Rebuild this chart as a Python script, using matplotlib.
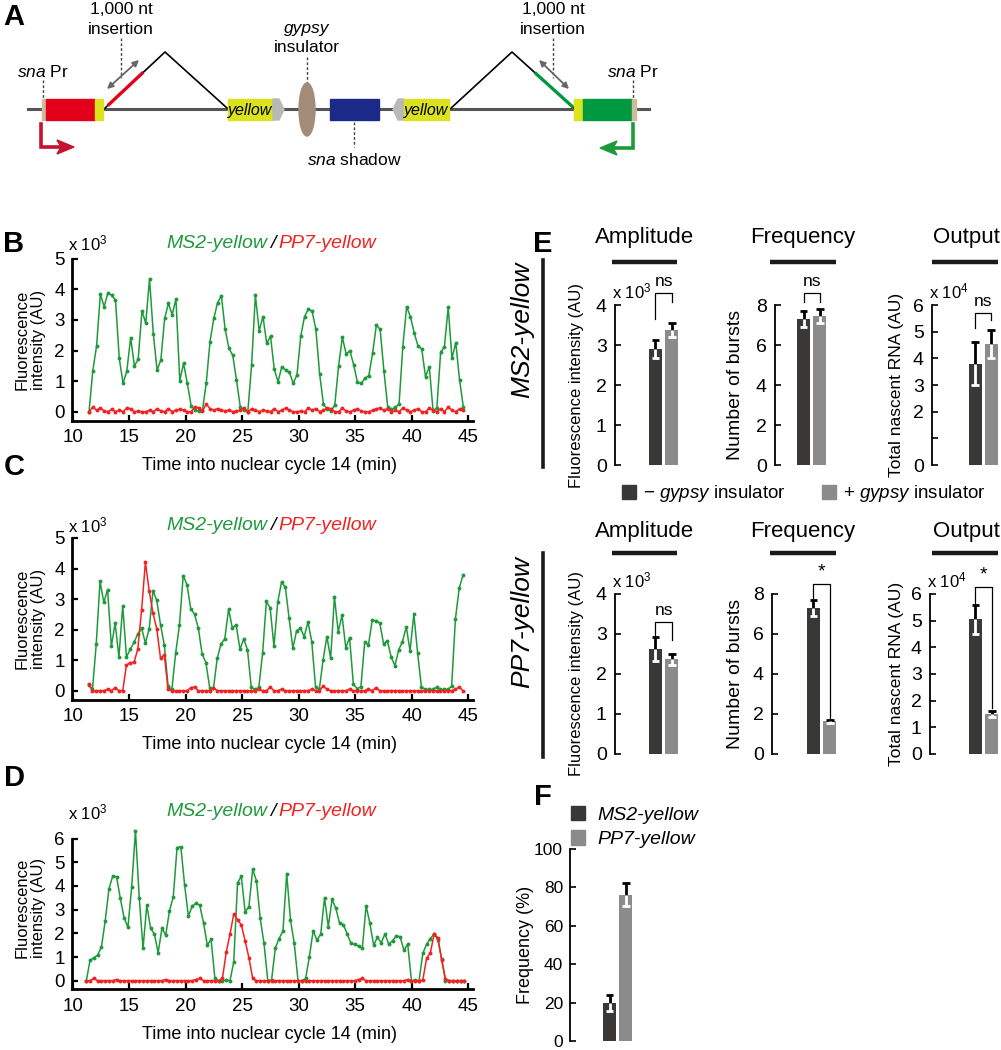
import numpy as np
import matplotlib
matplotlib.use('Agg')
import matplotlib.pyplot as plt
from matplotlib.patches import Rectangle, Ellipse, Polygon, Patch

plt.rcParams['font.family'] = ['Liberation Sans', 'DejaVu Sans']
plt.rcParams['mathtext.fontset'] = 'custom'
plt.rcParams['mathtext.rm'] = 'Liberation Sans'
plt.rcParams['mathtext.it'] = 'Liberation Sans:italic'

W, H = 1001, 1050
GREEN = '#1f9a3a'
RED = '#f22222'
DARK = '#3a3737'
LIGHT = '#8b8b8b'

# ---------------- data ----------------
frame_min = 0.335          # imaging interval (min)
b_start, c_start, d_start = 11.42, 11.39, 11.18

b_ms2 = [0.0, 1.34, 2.15, 3.84, 3.43, 3.89, 3.80, 3.65, 1.74, 0.93,
         1.33, 2.42, 1.50, 1.71, 3.30, 2.89, 4.34, 2.55, 1.36, 1.69,
         3.05, 3.54, 3.17, 3.69, 1.01, 1.58, 0.93, 0.20, 0.05, 0.02,
         0.05, 0.93, 2.29, 3.05, 3.56, 3.79, 2.70, 2.07, 1.85, 1.04,
         0.16, 0.05, 0.0, 1.53, 3.81, 2.64, 3.11, 2.23, 2.47, 1.38,
         0.98, 1.47, 1.36, 1.29, 0.93, 1.20, 2.47, 3.11, 3.35, 3.29,
         2.69, 1.23, 0.24, 0.08, 0.02, 0.22, 1.49, 2.43, 1.89, 1.99,
         1.53, 0.96, 0.93, 1.09, 1.18, 1.91, 2.83, 2.69, 1.33, 0.16,
         0.08, 0.14, 0.25, 2.13, 3.43, 3.11, 2.58, 2.15, 2.05, 1.14,
         1.47, 0.02, 0.13, 1.94, 2.13, 3.41, 1.74, 2.26, 1.04, 0.16]
b_pp7 = [0.0, 0.15, 0.05, 0.12, 0.03, 0.0, 0.08, 0.0, 0.05, 0.0,
         0.12, 0.1, 0.0, 0.02, 0.0, 0.0, 0.05, 0.0, 0.1, 0.02,
         0.0, 0.1, 0.0, 0.05, 0.08, 0.05, 0.0, 0.0, 0.15, 0.12,
         0.02, 0.25, 0.1, 0.05, 0.1, 0.05, 0.03, 0.05, 0.0, 0.02,
         0.05, 0.12, 0.0, 0.1, 0.05, 0.0, 0.05, 0.02, 0.0, 0.1,
         0.0, 0.05, 0.12, 0.05, 0.0, 0.0, 0.02, 0.0, 0.12, 0.05,
         0.1, 0.0, 0.05, 0.12, 0.1, 0.0, 0.0, 0.12, 0.02, 0.0,
         0.05, 0.1, 0.02, 0.0, 0.0, 0.05, 0.1, 0.12, 0.05, 0.1,
         0.0, 0.05, 0.0, 0.12, 0.05, 0.0, 0.05, 0.1, 0.0, 0.0,
         0.12, 0.05, 0.0, 0.1, 0.0, 0.15, 0.05, 0.0, 0.1, 0.05]

c_ms2 = [0.19, 0.04, 1.53, 3.58, 2.89, 3.31, 1.45, 2.21, 1.10, 2.78,
         1.10, 1.36, 1.58, 1.86, 2.04, 1.56, 2.02, 3.27, 2.96, 2.16,
         1.50, 0.15, 0.04, 1.23, 2.14, 3.77, 3.47, 2.68, 2.50, 2.05,
         1.20, 0.92, 0.10, 0.08, 1.06, 1.53, 1.70, 2.67, 2.05, 2.16,
         1.36, 1.69, 1.34, 0.11, 0.04, 0.11, 1.23, 2.92, 2.71, 1.45,
         2.90, 3.55, 3.40, 2.38, 1.39, 1.97, 2.04, 1.77, 2.25, 1.61,
         0.13, 0.04, 1.01, 1.77, 1.06, 3.07, 1.93, 2.47, 1.40, 1.74,
         0.22, 0.07, 0.13, 1.58, 1.50, 2.31, 2.29, 2.21, 1.53, 1.64,
         1.10, 0.82, 1.34, 1.61, 2.09, 1.30, 2.51, 1.23, 0.13, 0.04,
         0.04, 0.04, 0.11, 0.04, 0.04, 0.04, 0.15, 2.35, 3.36, 3.78]
c_pp7 = [0.22, 0.0, 0.0, 0.0, 0.0, 0.05, 0.0, 0.1, 0.0, 0.0,
         0.84, 0.92, 0.93, 1.37, 2.65, 4.21, 3.27, 2.54, 2.03, 1.06,
         1.17, 0.04, 0.0, 0.0, 0.0, 0.0, 0.0, 0.1, 0.12, 0.0,
         0.0, 0.0, 0.0, 0.1, 0.0, 0.0, 0.0, 0.0, 0.0, 0.0,
         0.0, 0.0, 0.0, 0.0, 0.0, 0.05, 0.0, 0.0, 0.12, 0.0,
         0.0, 0.05, 0.0, 0.0, 0.0, 0.0, 0.0, 0.0, 0.0, 0.05,
         0.0, 0.0, 0.15, 0.05, 0.0, 0.0, 0.0, 0.0, 0.0, 0.05,
         0.0, 0.0, 0.0, 0.0, 0.05, 0.0, 0.1, 0.0, 0.0, 0.0,
         0.0, 0.0, 0.0, 0.0, 0.0, 0.0, 0.0, 0.0, 0.0, 0.0,
         0.0, 0.0, 0.0, 0.0, 0.0, 0.0, 0.0, 0.05, 0.12, 0.0]

d_ms2 = [0.0, 0.87, 0.97, 1.08, 1.43, 2.53, 3.89, 4.42, 4.38, 3.47,
         2.65, 2.25, 3.96, 6.32, 3.51, 1.36, 3.19, 2.21, 1.97, 1.18,
         2.21, 1.92, 2.95, 3.54, 5.62, 5.65, 4.04, 2.72, 3.15, 3.26,
         3.19, 2.44, 1.50, 1.74, 0.10, 0.0, 0.0, 0.03, 0.0, 0.80,
         4.13, 4.41, 2.91, 3.12, 4.70, 4.21, 2.63, 1.57, 0.0, 0.03,
         1.39, 1.78, 2.09, 4.52, 2.56, 1.57, 0.0, 0.0, 0.10, 1.01,
         2.11, 1.71, 1.97, 3.50, 2.28, 3.43, 3.05, 2.42, 2.37, 1.97,
         1.57, 1.53, 1.46, 1.36, 3.16, 2.42, 1.50, 1.83, 1.60, 1.97,
         1.54, 1.69, 1.90, 1.85, 1.29, 1.54, 0.0, 0.03, 0.0, 1.15,
         1.54, 1.78, 1.97, 1.71, 0.90, 0.0, 0.0, 0.0, 0.0, 0.0, 0.0]
d_pp7 = [0.0, 0.0, 0.1, 0.0, 0.0, 0.0, 0.0, 0.0, 0.05, 0.0,
         0.0, 0.0, 0.0, 0.0, 0.0, 0.0, 0.0, 0.0, 0.0, 0.0,
         0.0, 0.05, 0.0, 0.0, 0.0, 0.0, 0.0, 0.0, 0.0, 0.05,
         0.1, 0.0, 0.0, 0.0, 0.0, 0.0, 0.1, 1.19, 1.97, 2.81,
         2.58, 2.35, 1.69, 0.97, 0.10, 0.0, 0.0, 0.0, 0.0, 0.0,
         0.0, 0.0, 0.0, 0.0, 0.0, 0.0, 0.0, 0.0, 0.0, 0.0,
         0.0, 0.0, 0.0, 0.0, 0.0, 0.0, 0.0, 0.0, 0.0, 0.0,
         0.0, 0.0, 0.05, 0.1, 0.0, 0.0, 0.0, 0.0, 0.0, 0.0,
         0.0, 0.0, 0.0, 0.0, 0.0, 0.05, 0.0, 0.0, 0.0, 0.03,
         0.94, 1.18, 1.97, 1.81, 0.87, 0.07, 0.0, 0.0, 0.0, 0.0, 0.0]

# panel E: [- gypsy, + gypsy]
ms2_amp, ms2_amp_err = [2.90, 3.37], [0.23, 0.17]
ms2_freq, ms2_freq_err = [7.30, 7.45], [0.40, 0.37]
ms2_out, ms2_out_err = [3.80, 4.55], [0.80, 0.52]
pp7_amp, pp7_amp_err = [2.63, 2.37], [0.30, 0.14]
pp7_freq, pp7_freq_err = [7.30, 1.63], [0.42, 0.08]
pp7_out, pp7_out_err = [5.05, 1.50], [0.55, 0.10]
# panel F
f_vals, f_errs = [19.6, 76.3], [4.2, 6.2]
f_labels = ['MS2-yellow', 'PP7-yellow']

# ---------------- figure ----------------
fig = plt.figure(figsize=(W / 100, H / 100), dpi=100)


def px_axes(l, t, r, b, **kw):
    return fig.add_axes([l / W, 1 - b / H, (r - l) / W, (b - t) / H], **kw)


# overlay in pixel coordinates for diagram and annotations
ov = px_axes(0, 0, W, H, zorder=5)
ov.set_xlim(0, W)
ov.set_ylim(H, 0)
ov.axis('off')
ov.patch.set_alpha(0)


def txt(x, y, s, **kw):
    kw.setdefault('ha', 'center')
    kw.setdefault('va', 'center')
    ov.text(x, y, s, **kw)


# panel letters
for letter, (lx, ly) in {'A': (14, 17), 'B': (14, 244), 'C': (14, 467),
                         'D': (14, 778), 'E': (543, 244), 'F': (543, 797)}.items():
    txt(lx, ly, letter, fontsize=21, fontweight='bold')

# ---------------- panel A diagram ----------------
YEL = '#dbe21e'
TAN = '#cdbb9b'
ov.plot([28, 649], [109, 109], color='#555555', lw=2.2, zorder=1)
ov.add_patch(Rectangle((42, 99), 4, 21, color=TAN, zorder=2))
ov.add_patch(Rectangle((46, 99), 49, 21, color='#e3001b', zorder=2))
ov.add_patch(Rectangle((95, 99), 8, 21, color=YEL, zorder=2))
ov.plot([103, 165, 227], [110, 52, 108], color='black', lw=1.2, zorder=1)
ov.plot([109, 142], [104.4, 73.4], color='#e3001b', lw=2.4, zorder=2)
ov.add_patch(Rectangle((228, 99), 45, 21, color=YEL, zorder=2))
ov.add_patch(Polygon([(273, 99), (279, 99), (284, 109.5), (279, 120), (273, 120)],
                     color='#b8b8b8', zorder=2))
ov.add_patch(Ellipse((307, 109.5), 16, 53, color='#a38b7a', zorder=3))
ov.add_patch(Rectangle((330, 99), 49, 21, color='#1b2a88', zorder=2))
ov.add_patch(Polygon([(404, 99), (398, 99), (393, 109.5), (398, 120), (404, 120)],
                     color='#b8b8b8', zorder=2))
ov.add_patch(Rectangle((404, 99), 45, 21, color=YEL, zorder=2))
ov.plot([449, 512, 574], [110, 52, 108], color='black', lw=1.2, zorder=1)
ov.plot([536, 572], [73.7, 106.2], color='#009940', lw=2.4, zorder=2)
ov.add_patch(Rectangle((574, 99), 9, 21, color=YEL, zorder=2))
ov.add_patch(Rectangle((583, 99), 49, 21, color='#009940', zorder=2))
ov.add_patch(Rectangle((632, 99), 4, 21, color=TAN, zorder=2))
for x in (250, 426):
    txt(x, 110, 'yellow', fontsize=11.5, style='italic')
arrow_kw = dict(arrowstyle='<|-|>', color='#666666', lw=1.3, mutation_scale=9,
                shrinkA=0, shrinkB=0)
ov.annotate('', xy=(107, 89), xytext=(139, 60), arrowprops=arrow_kw)
ov.annotate('', xy=(569, 89), xytext=(539, 60), arrowprops=arrow_kw)
dash = dict(color='#444444', lw=1.0, ls=(0, (2, 1.5)))
for xs, ys in [((121, 121), (38, 78)), ((553, 553), (38, 78)), ((43, 43), (80, 98)),
               ((633, 633), (80, 98)), ((307, 307), (57, 83)), ((354, 354), (122, 147))]:
    ov.plot(xs, ys, **dash)
for x in (121, 553):
    txt(x, 10, '1,000 nt', fontsize=12.5)
    txt(x, 30, 'insertion', fontsize=12.5)
txt(43, 72, r'$\mathit{sna}$ Pr', fontsize=12.5)
txt(633, 72, r'$\mathit{sna}$ Pr', fontsize=12.5)
txt(307, 28, 'gypsy', fontsize=12.5, style='italic')
txt(307, 48, 'insulator', fontsize=12.5)
txt(354, 160, r'$\mathit{sna}$ shadow', fontsize=12.5)
ov.plot([41, 41, 62], [124, 147, 147], color='#c4122f', lw=2.6, solid_joinstyle='miter')
ov.add_patch(Polygon([(74, 147), (57, 140), (61, 147), (57, 154)], color='#c4122f'))
ov.plot([633, 633, 612], [124, 148, 148], color='#1e9a3a', lw=2.6, solid_joinstyle='miter')
ov.add_patch(Polygon([(600, 148), (617, 141), (613, 148), (617, 155)], color='#1e9a3a'))

# ---------------- panels B, C, D traces ----------------
X0_PX, PX_PER_MIN = 73, 11.286


def trace_panel(ms2, pp7, start, ytop, y0_px, unit_px, ymin, title_y, yticks):
    left = X0_PX + (9.9 - 10) * PX_PER_MIN
    right = X0_PX + (45.4 - 10) * PX_PER_MIN
    top = y0_px - ytop * unit_px
    bot = y0_px - ymin * unit_px
    ax = px_axes(left, top, right, bot)
    t_ms2 = start + frame_min * np.arange(len(ms2))
    t_pp7 = start + frame_min * np.arange(len(pp7))
    ax.plot(t_ms2, ms2, '-o', color=GREEN, lw=1.1, ms=2.8, mew=0)
    ax.plot(t_pp7, pp7, '-o', color=RED, lw=1.1, ms=2.8, mew=0)
    ax.set_xlim(9.9, 45.4)
    ax.set_ylim(ymin, ytop)
    ax.set_xticks(range(10, 46, 5))
    ax.set_yticks(yticks)
    for s in ('top', 'right'):
        ax.spines[s].set_visible(False)
    for s in ('left', 'bottom'):
        ax.spines[s].set_linewidth(2)
    ax.spines['left'].set_bounds(ymin, yticks[-1])
    ax.tick_params(direction='in', length=4, width=1.6, labelsize=13.5, pad=5)
    ax.tick_params(axis='x', pad=6)
    ax.patch.set_alpha(0)
    cy = (top + bot) / 2
    txt(30, cy, 'Fluorescence\nintensity (AU)', fontsize=12, rotation=90, linespacing=1.1)
    txt(68, title_y, r'x 10$^{3}$', fontsize=12, ha='left')
    txt(267, title_y, 'MS2-yellow', fontsize=14, style='italic', color=GREEN, ha='right')
    txt(272.5, title_y, '/', fontsize=14, style='italic')
    txt(278, title_y, 'PP7-yellow', fontsize=14, style='italic', color=RED, ha='left')
    txt(270, bot + 45, 'Time into nuclear cycle 14 (min)', fontsize=13)
    return ax


trace_panel(b_ms2, b_pp7, b_start, 5.0, 411.7, 30.6, -0.3, 243, range(0, 6))
trace_panel(c_ms2, c_pp7, c_start, 5.0, 690.7, 30.55, -0.3, 525, range(0, 6))
trace_panel(d_ms2, d_pp7, d_start, 6.5, 980.7, 23.7, -0.36, 812, range(0, 7))

# ---------------- panel E bars ----------------
BAR_PX = 16.25


def draw_bars(ax, vals, errs, capw=0.24):
    x = np.arange(len(vals))
    ax.bar(x, vals, width=0.8, color=[DARK, LIGHT])
    for xi, v, e in zip(x, vals, errs):
        ax.vlines(xi, v, v + e, color='black', lw=2, clip_on=False)
        ax.hlines(v + e, xi - capw, xi + capw, color='black', lw=2, clip_on=False)
        ax.vlines(xi, v - e, v, color='white', lw=2, clip_on=False)
        ax.hlines(v - e, xi - capw, xi + capw, color='white', lw=2, clip_on=False)


def bar_axes(spine_x, top, bottom, c0, ymax, yticks, ticklabels=None, width=70, lsize=14):
    ax = px_axes(spine_x, top, spine_x + width, bottom)
    left = -(c0 - spine_x) / BAR_PX
    ax.set_xlim(left, left + width / BAR_PX)
    ax.set_ylim(0, ymax)
    ax.set_yticks(yticks)
    if ticklabels is not None:
        ax.set_yticklabels(ticklabels)
    ax.set_xticks([])
    for s in ('top', 'right', 'bottom'):
        ax.spines[s].set_visible(False)
    ax.spines['left'].set_linewidth(1.3)
    ax.tick_params(direction='in', length=4, width=1.2, labelsize=lsize, pad=6)
    ax.patch.set_alpha(0)
    return ax


def bracket(ax, vals, errs, label, g0, g1, gtop, star=False):
    ppx = ax.get_ylim()[1] / 160.0
    y0 = vals[0] + errs[0] + g0 * ppx
    y1 = vals[1] + errs[1] + g1 * ppx
    yt = max(y0, y1) + gtop * ppx
    ax.plot([0, 0, 1, 1], [y0, yt, yt, y1], color='black', lw=0.9, clip_on=False)
    ax.text(0.5, yt + (3 if star else 4) * ppx, label, ha='center', va='bottom',
            fontsize=14 if star else 12.5, clip_on=False)


e_rows = [
    (305, 465, [ms2_amp, ms2_freq, ms2_out], [ms2_amp_err, ms2_freq_err, ms2_out_err],
     [(615, 655.5), (775, 803.5), (932, 975)], ['ns', 'ns', 'ns'],
     [(21, 21, 9), (9, 7, 9), (14, 10, 7)]),
    (594, 754, [pp7_amp, pp7_freq, pp7_out], [pp7_amp_err, pp7_freq_err, pp7_out_err],
     [(615, 655.5), (772, 813.5), (930, 975.5)], ['ns', '*', '*'],
     [(2, 14, 13), (2, 2, 14), (2, 3, 16)]),
]
limits = [(4, range(0, 5), None), (8, range(0, 9, 2), None),
          (6, range(0, 7), ['0', '', '2', '3', '4', '5', '6'])]
ylabels = [('Fluorescence intensity (AU)', 577, 12), ('Number of bursts', 736, 14),
           ('Total nascent RNA (AU)', 896, 12.5)]
sci = ['x 10$^{3}$', None, 'x 10$^{4}$']

for top, bot, vals_list, err_list, pos, sig, gaps in e_rows:
    for k in range(3):
        ymax, ticks, tlab = limits[k]
        if k == 2 and top > 500:
            tlab = None
        ax = bar_axes(pos[k][0], top, bot, pos[k][1], ymax, ticks, tlab)
        draw_bars(ax, vals_list[k], err_list[k])
        bracket(ax, vals_list[k], err_list[k], sig[k], *gaps[k], star=(sig[k] == '*'))
        lab, lx, fs = ylabels[k]
        txt(lx, (top + bot) / 2, lab, fontsize=fs, rotation=90)
        if sci[k]:
            txt(pos[k][0] - 3, top - 14, sci[k], fontsize=12, ha='left')

# headers and row labels
for hy, by in [(238, 262), (532, 553)]:
    for name, cx, x0, x1 in [('Amplitude', 645, 612, 677), ('Frequency', 803, 770, 836),
                             ('Output', 966, 932, 998)]:
        txt(cx, hy, name, fontsize=16)
        ov.plot([x0, x1], [by, by], color='#1a1a1a', lw=3.2, solid_capstyle='butt')
txt(522, 330, 'MS2-yellow', fontsize=19, style='italic', rotation=90)
ov.plot([543, 543], [260, 467], color='#1a1a1a', lw=2.6)
txt(522, 622, 'PP7-yellow', fontsize=19, style='italic', rotation=90)
ov.plot([543, 543], [553, 757], color='#1a1a1a', lw=2.6)

fig.legend([Patch(color=DARK), Patch(color=LIGHT)],
           [r'$-$ $\mathit{gypsy}$ insulator', r'+ $\mathit{gypsy}$ insulator'],
           ncol=2, loc='center', bbox_to_anchor=(804 / W, 1 - 494 / H), frameon=False,
           fontsize=13.5, handlelength=0.75, handleheight=0.75, handletextpad=0.4,
           columnspacing=1.9)

# ---------------- panel F ----------------
axf = bar_axes(570, 849, 1041, 609.5, 100, range(0, 101, 20), width=80, lsize=12.5)
axf.set_ylim(0, 100)
axf.tick_params(pad=5)
draw_bars(axf, f_vals, f_errs)
txt(526, 945, 'Frequency (%)', fontsize=13, rotation=90)
axf.legend([Patch(color=DARK), Patch(color=LIGHT)], f_labels, loc='upper left',
           bbox_to_anchor=(563 / W, 1 - 798 / H), bbox_transform=fig.transFigure,
           frameon=False, prop={'style': 'italic', 'size': 14}, handlelength=0.75,
           handleheight=0.75, handletextpad=0.6, labelspacing=0.35, borderaxespad=0)

fig.savefig('out.png', dpi=100)
